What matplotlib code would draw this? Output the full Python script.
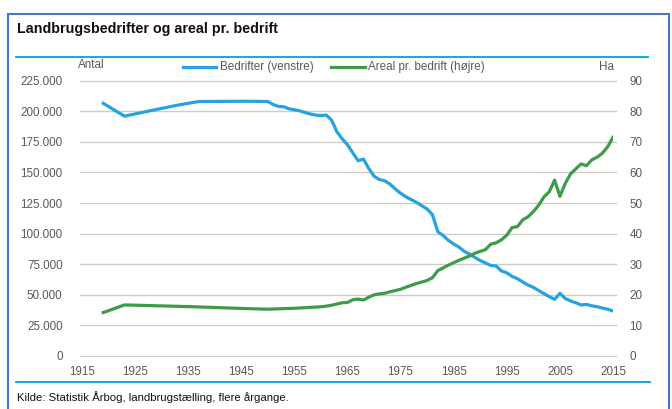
import matplotlib
matplotlib.use("Agg")
import matplotlib.pyplot as plt
from matplotlib.ticker import FuncFormatter
from matplotlib.lines import Line2D
from matplotlib.patches import Rectangle

# ---------------- data ----------------
bedrifter_years = [1919, 1923, 1929, 1933, 1937, 1946, 1950,
                   1951, 1952, 1953, 1954, 1955, 1956, 1957, 1958, 1959, 1960,
                   1961, 1962, 1963, 1964, 1965, 1966, 1967, 1968, 1969, 1970,
                   1971, 1972, 1973, 1974, 1975, 1976, 1977, 1978, 1979, 1980,
                   1981, 1982, 1983, 1984, 1985, 1986, 1987, 1988, 1989, 1990,
                   1991, 1992, 1993, 1994, 1995, 1996, 1997, 1998, 1999, 2000,
                   2001, 2002, 2003, 2004, 2005, 2006, 2007, 2008, 2009, 2010,
                   2011, 2012, 2013, 2014, 2015]
bedrifter = [206500, 196000, 201500, 205000, 208000, 208200, 208000,
             205500, 204000, 203700, 202000, 201200, 200400, 199000, 197800, 196900, 196500,
             196900, 192800, 183300, 177500, 172600, 166000, 159600, 161000, 153300, 147000,
             144200, 143200, 140500, 136500, 133000, 130100, 127800, 125600, 122800, 120100,
             115500, 101600, 98500, 94500, 91500, 89000, 85500, 83300, 80500, 78000,
             76000, 74000, 73500, 69500, 68000, 65000, 63200, 60500, 58000, 56100,
             53500, 51000, 48500, 46300, 51200, 47000, 45000, 43500, 41700, 42200,
             41000, 40300, 39200, 38200, 36800]

areal_years = [1919, 1923, 1936, 1946, 1950, 1955, 1959, 1960,
               1961, 1962, 1963, 1964, 1965, 1966, 1967, 1968, 1969, 1970,
               1971, 1972, 1973, 1974, 1975, 1976, 1977, 1978, 1979, 1980,
               1981, 1982, 1983, 1984, 1985, 1986, 1987, 1988, 1989, 1990,
               1991, 1992, 1993, 1994, 1995, 1996, 1997, 1998, 1999, 2000,
               2001, 2002, 2003, 2004, 2005, 2006, 2007, 2008, 2009, 2010,
               2011, 2012, 2013, 2014, 2015]
areal = [14.2, 16.7, 16.1, 15.5, 15.3, 15.6, 16.0, 16.1,
         16.3, 16.6, 17.0, 17.4, 17.5, 18.4, 18.6, 18.3, 19.2, 20.0,
         20.3, 20.5, 21.0, 21.4, 21.8, 22.5, 23.1, 23.7, 24.2, 24.7,
         25.6, 27.9, 28.8, 29.7, 30.5, 31.3, 32.0, 32.7, 33.6, 34.2,
         34.8, 36.6, 37.0, 38.0, 39.5, 42.0, 42.3, 44.5, 45.5, 47.2,
         49.3, 52.0, 53.7, 57.5, 52.2, 56.4, 59.5, 61.2, 62.8, 62.2,
         64.1, 65.0, 66.3, 68.4, 71.5]

x_ticks = [1915, 1925, 1935, 1945, 1955, 1965, 1975, 1985, 1995, 2005, 2015]
left_ticks = [0, 25000, 50000, 75000, 100000, 125000, 150000, 175000, 200000, 225000]
right_ticks = [0, 10, 20, 30, 40, 50, 60, 70, 80, 90]

title = "Landbrugsbedrifter og areal pr. bedrift"
source = "Kilde: Statistik Årbog, landbrugstælling, flere årgange."
label_left = "Bedrifter (venstre)"
label_right = "Areal pr. bedrift (højre)"

# ---------------- style ----------------
FONT = ["Liberation Sans Narrow", "Liberation Sans", "DejaVu Sans"]
plt.rcParams["font.family"] = FONT
BLUE = "#27A2E0"
GREEN = "#3F9B4A"
GRID = "#CFCCC4"
TXT = "#595959"
FS = 8.4

W, H = 672, 409
fig = plt.figure(figsize=(W / 100, H / 100), dpi=100)

def fx(px):
    return px / W

def fy(py):
    return 1 - py / H

# outer border
fig.patches.append(Rectangle((fx(7.5), fy(420)), fx(669 - 7.5), fy(13.5) - fy(420),
                             transform=fig.transFigure, fill=False,
                             edgecolor="#4A76C8", linewidth=1.5, clip_on=False))
# title and rules
fig.text(fx(17), fy(29), title, fontsize=10.3, fontweight="bold", color="#111111",
         va="center", ha="left")
fig.add_artist(Line2D([fx(16), fx(648)], [fy(56.5), fy(56.5)], color="#00A3E0",
                      linewidth=1.3, transform=fig.transFigure))
fig.add_artist(Line2D([fx(16), fx(650)], [fy(381.5), fy(381.5)], color="#00A3E0",
                      linewidth=1.3, transform=fig.transFigure))
fig.text(fx(17), fy(397), source, fontsize=8.2, color="#111111", va="center", ha="left")

# axes
left, right, top, bottom = 82, 613, 80.7, 356
ax = fig.add_axes([fx(left), fy(bottom), fx(right - left), fy(top) - fy(bottom)])
ax2 = ax.twinx()

ax.plot(bedrifter_years, bedrifter, color=BLUE, linewidth=2.3, solid_joinstyle="round",
        zorder=3)
ax2.plot(areal_years, areal, color=GREEN, linewidth=2.3, solid_joinstyle="round", zorder=3)

ax.set_xlim(1915, 2015)
ax.set_ylim(0, 225000)
ax2.set_ylim(0, 90)
ax.set_xticks(x_ticks)
ax.set_yticks(left_ticks)
ax2.set_yticks(right_ticks)
ax.yaxis.set_major_formatter(FuncFormatter(lambda v, p: f"{int(v):,}".replace(",", ".")))
ax2.yaxis.set_major_formatter(FuncFormatter(lambda v, p: f"{int(v)}"))

for a in (ax, ax2):
    for s in a.spines.values():
        s.set_visible(False)
    a.tick_params(length=0, labelsize=FS, labelcolor=TXT)
ax.tick_params(axis="y", pad=14)
ax2.tick_params(axis="y", pad=12)
ax.tick_params(axis="x", pad=7)

for v in left_ticks:
    ax.add_artist(Line2D([-0.004, 1.006], [v, v], color=GRID, linewidth=1.0,
                         transform=ax.get_yaxis_transform(), clip_on=False, zorder=1))
ax2.set_zorder(ax.get_zorder() + 1)
ax.patch.set_visible(False)
ax2.patch.set_visible(False)

fig.text(fx(91), fy(65), "Antal", fontsize=FS, color=TXT, ha="center", va="center")
fig.text(fx(606), fy(67), "Ha", fontsize=FS, color=TXT, ha="center", va="center")

# legend
fig.add_artist(Line2D([fx(183), fx(216)], [fy(67), fy(67)], color=BLUE, linewidth=2.3,
                      transform=fig.transFigure))
fig.text(fx(220), fy(67), label_left, fontsize=FS, color=TXT, ha="left", va="center")
fig.add_artist(Line2D([fx(331), fx(365)], [fy(67), fy(67)], color=GREEN, linewidth=2.3,
                      transform=fig.transFigure))
fig.text(fx(368), fy(67), label_right, fontsize=FS, color=TXT, ha="left", va="center")

fig.savefig("out.png", dpi=100, facecolor="white")
